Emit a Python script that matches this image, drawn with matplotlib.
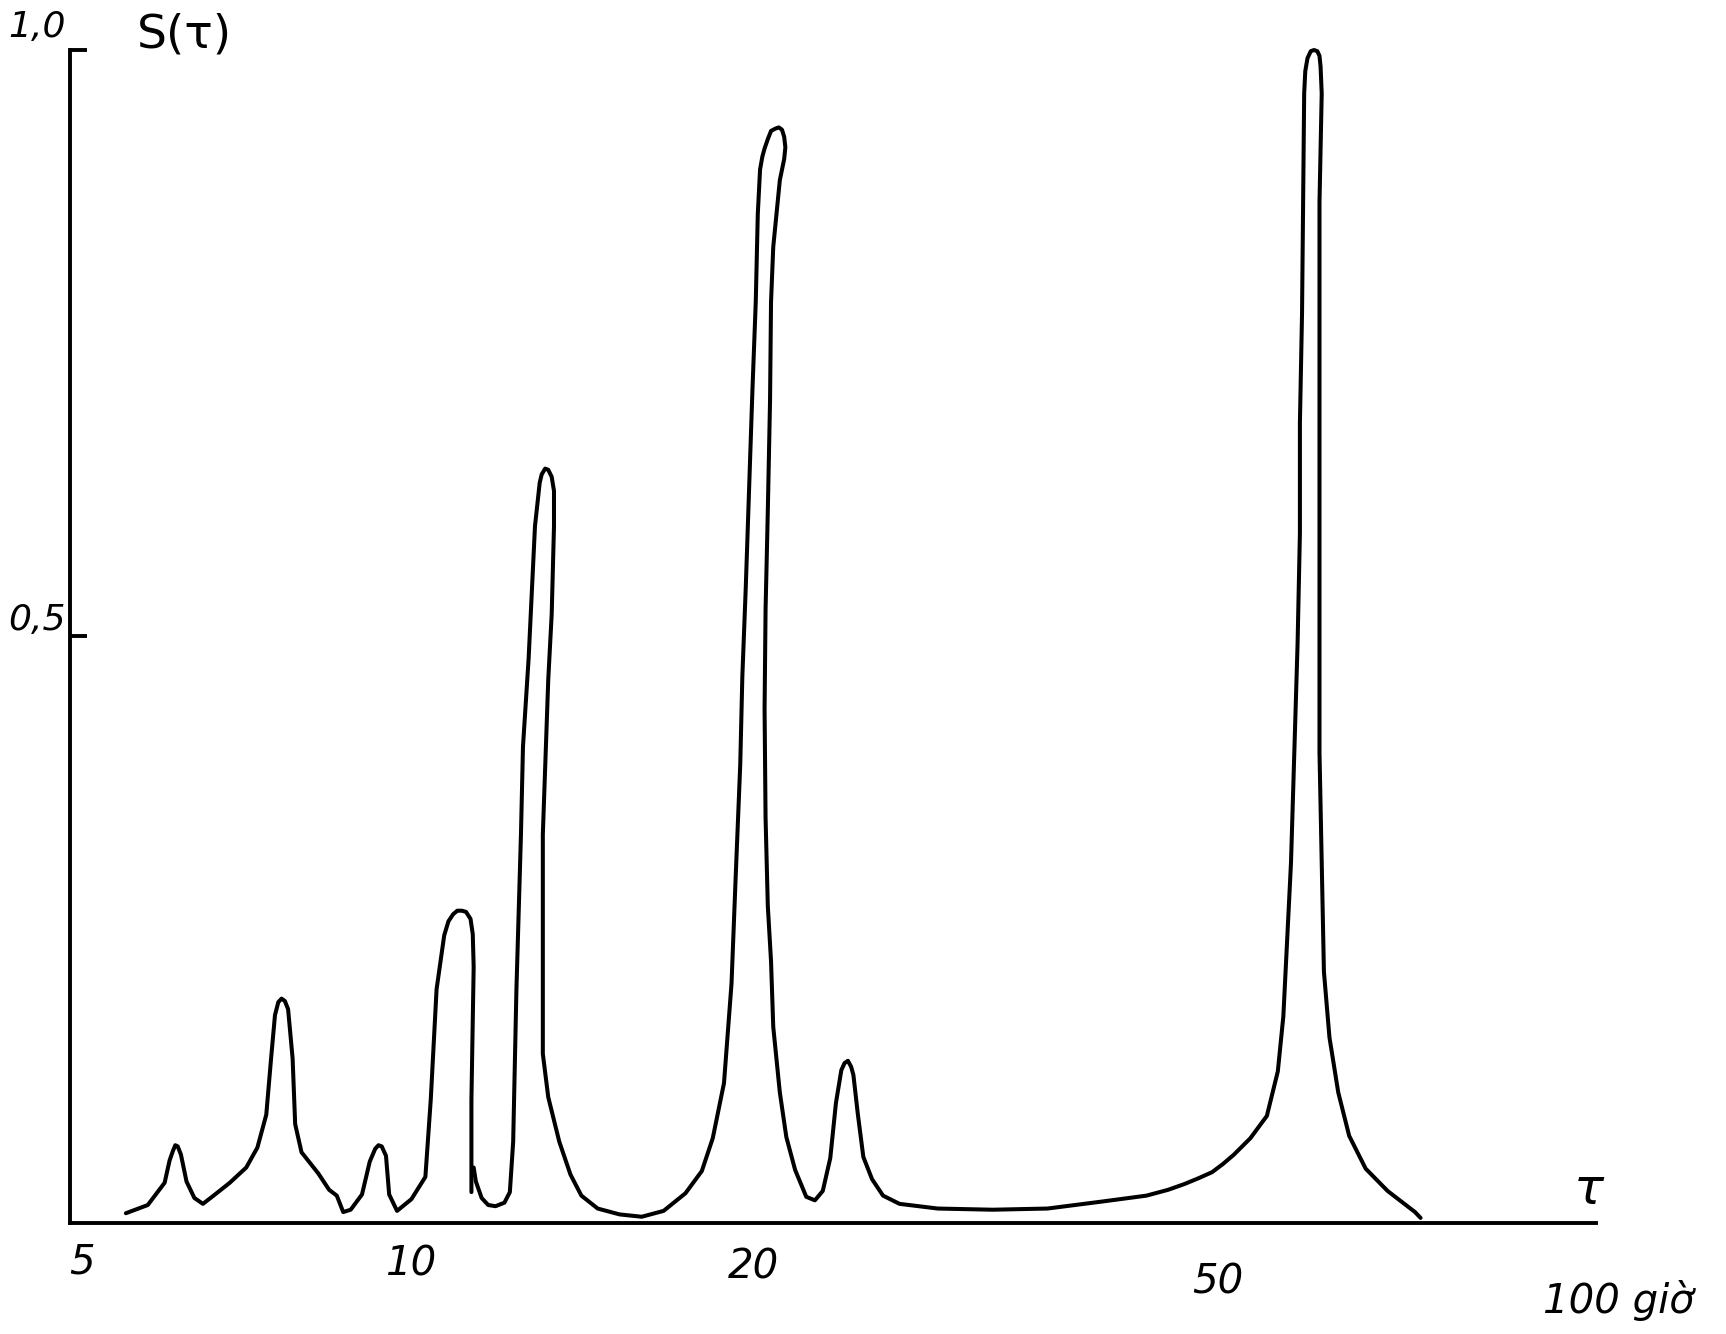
import matplotlib.pyplot as plt
from matplotlib.ticker import NullLocator
from matplotlib.transforms import ScaledTranslation

# first pen stroke (tau in hours, S(tau))
tau_a = [5.59, 5.84, 6.04, 6.10, 6.14, 6.17, 6.20, 6.24, 6.31, 6.41, 6.52, 6.66,
         6.88, 7.11, 7.27, 7.40, 7.47, 7.53, 7.58, 7.63, 7.68, 7.73, 7.80, 7.84,
         7.94, 8.21, 8.39, 8.52, 8.63, 8.76, 8.96, 9.10, 9.20, 9.26, 9.32, 9.40,
         9.46, 9.61, 9.89, 10.17, 10.28, 10.40, 10.56, 10.65, 10.75, 10.84, 10.94,
         11.03, 11.13, 11.18, 11.20, 11.15, 11.15]
s_a = [0.008, 0.015, 0.034, 0.053, 0.061, 0.066, 0.065, 0.058, 0.035, 0.021, 0.016, 0.023,
       0.034, 0.047, 0.064, 0.092, 0.139, 0.177, 0.188, 0.191, 0.189, 0.182, 0.140, 0.084,
       0.060, 0.042, 0.028, 0.023, 0.009, 0.011, 0.024, 0.052, 0.063, 0.066, 0.065, 0.057,
       0.024, 0.010, 0.020, 0.039, 0.105, 0.199, 0.245, 0.257, 0.263, 0.266, 0.266,
       0.265, 0.259, 0.246, 0.218, 0.105, 0.026]

# second pen stroke
tau_b = [11.20, 11.25, 11.38, 11.53, 11.70, 11.91, 12.04, 12.12, 12.20, 12.31,
         12.36, 12.50, 12.58, 12.66, 12.78, 12.83, 12.92, 13.00, 13.09, 13.15, 13.15,
         13.09, 13.00, 12.92, 12.86, 12.86, 12.86, 13.00, 13.29, 13.59, 13.89, 14.35, 14.99,
         15.67, 16.37, 17.10, 17.67, 18.06, 18.47, 18.75, 18.91, 19.08, 19.16,
         19.29, 19.42, 19.55, 19.68, 19.76, 19.85, 19.94, 20.03, 20.16, 20.29, 20.47,
         20.61, 20.74, 20.83, 20.88, 20.83, 20.65, 20.51, 20.38, 20.29, 20.25, 20.16,
         20.07, 20.03, 20.07, 20.16, 20.29, 20.38, 20.65, 20.92, 21.29, 21.77, 22.15,
         22.50, 22.84, 23.10, 23.35, 23.50, 23.66, 23.81, 23.92, 24.13, 24.40, 24.83,
         25.38, 26.23, 28.31, 31.60, 35.26, 39.34, 42.96, 44.87, 46.38, 47.71, 48.98,
         50.06, 51.17, 52.88,
         54.65, 55.86, 56.48, 56.85, 57.35, 57.73, 58.11, 58.38, 58.38, 58.63, 58.75,
         58.88, 59.01, 59.27, 59.66, 60.05, 60.45, 60.71, 60.84, 60.98, 60.71, 60.71,
         60.71, 60.71, 60.71, 60.71, 60.98, 61.25, 61.93, 63.03, 64.42, 66.58, 69.56,
         73.48, 74.3]
s_b = [0.047, 0.035, 0.021, 0.015, 0.014, 0.017, 0.026, 0.069, 0.200, 0.331,
       0.406, 0.481, 0.538, 0.594, 0.631, 0.638, 0.643, 0.642, 0.636, 0.624, 0.594,
       0.519, 0.463, 0.388, 0.331, 0.247, 0.144, 0.107, 0.069, 0.041, 0.023, 0.012, 0.007,
       0.005, 0.010, 0.025, 0.044, 0.072, 0.119, 0.204, 0.297, 0.391, 0.466,
       0.541, 0.626, 0.710, 0.785, 0.860, 0.898, 0.909, 0.916, 0.924, 0.931, 0.933,
       0.934, 0.932, 0.926, 0.917, 0.907, 0.889, 0.860, 0.832, 0.785, 0.701, 0.607,
       0.523, 0.438, 0.345, 0.270, 0.223, 0.167, 0.111, 0.073, 0.045, 0.022, 0.019,
       0.027, 0.055, 0.102, 0.130, 0.136, 0.138, 0.133, 0.126, 0.093, 0.056, 0.037,
       0.023, 0.016, 0.012, 0.011, 0.012, 0.018, 0.023, 0.028, 0.033, 0.038, 0.043,
       0.050, 0.058, 0.072,
       0.091, 0.129, 0.176, 0.232, 0.307, 0.401, 0.494, 0.588, 0.682, 0.776, 0.869,
       0.963, 0.982, 0.993, 0.999, 1.0, 0.999, 0.995, 0.986, 0.963, 0.870, 0.776,
       0.682, 0.588, 0.495, 0.401, 0.307, 0.214, 0.158, 0.111, 0.074, 0.046, 0.027,
       0.009, 0.004]

x_ticks = [5, 10, 20, 50, 100]
x_labels = ['5', '10', '20', '50', '100 giờ']
y_ticks = [0.5, 1.0]
y_labels = ['0,5', '1,0']

plt.rcParams['font.family'] = ['DejaVu Sans']

fig = plt.figure(figsize=(17.26, 13.34), dpi=100)
ax = fig.add_axes([0.0406, 0.0835, 0.8841, 0.879])

for t, s in [(tau_a, s_a), (tau_b, s_b)]:
    ax.plot(t, s, color='black', lw=2.9, solid_joinstyle='round',
            solid_capstyle='round', clip_on=False)

ax.set_xscale('log')
ax.set_xlim(5, 105.5)
ax.set_ylim(0, 1.0)

for side in ['top', 'right']:
    ax.spines[side].set_visible(False)
for side in ['left', 'bottom']:
    ax.spines[side].set_linewidth(2.8)

ax.set_xticks(x_ticks)
ax.set_xticklabels(x_labels, fontsize=29, style='italic')
ax.xaxis.set_minor_locator(NullLocator())
ax.tick_params(axis='x', length=0, pad=14)

# the drawn axis slopes down to the right, so labels sit lower there
shifts = [(0.12, 0), (-0.06, -0.02), (-0.1, -0.05), (-0.05, -0.2), (-0.26, -0.38)]
for lab, (dx, dy) in zip(ax.get_xticklabels(), shifts):
    lab.set_transform(lab.get_transform() + ScaledTranslation(dx, dy, fig.dpi_scale_trans))
ax.get_xticklabels()[-1].set_horizontalalignment('left')

ax.set_yticks(y_ticks)
ax.set_yticklabels(y_labels, fontsize=26, style='italic')
ax.tick_params(axis='y', direction='in', length=12, width=2.8, pad=3)
for lab, dy in zip(ax.get_yticklabels(), [0.2, 0.27]):
    lab.set_transform(lab.get_transform() + ScaledTranslation(0, dy, fig.dpi_scale_trans))

fig.text(0.107, 0.974, 'S(τ)', fontsize=34, ha='center', va='center')
ax.text(0.995, 0.028, 'τ', transform=ax.transAxes, fontsize=36,
        style='italic', ha='center', va='center')

plt.savefig('out.png', dpi=100, facecolor='white')
plt.close('all')
